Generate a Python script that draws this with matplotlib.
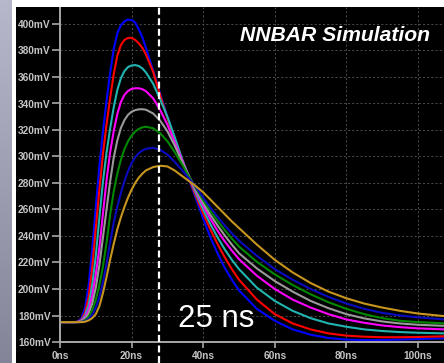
import numpy as np
import matplotlib
matplotlib.use("Agg")
import matplotlib.pyplot as plt
from matplotlib.patches import Rectangle

plt.rcParams['lines.scale_dashes'] = False

# ---- data (time in ns, voltage in mV) ----
t_ns = [0, 4, 5, 6, 7, 8, 9, 10, 11, 12,
        13, 14, 15, 16, 17, 18, 19, 20, 21, 22,
        23, 24,
        26, 28, 30, 32, 34, 36, 38, 40, 42, 44, 46, 48, 50,
        55, 60, 65, 70, 75, 80, 85, 90, 95, 100,
        107.5]

v_blue = [175, 175, 175.5, 178, 186, 203, 230, 262, 293, 319,
          342, 363, 381, 393, 399, 402, 403.3, 403, 401, 396,
          390, 382,
          365, 347, 330, 313, 297, 283, 268, 253, 239, 227, 216, 207, 199,
          185, 176, 169.5, 165.5, 163, 161.8, 161.4, 161.5, 161.8, 162.2,
          162.8]
v_red = [175, 175, 175.3, 177, 182, 194, 216, 246, 275, 302,
         324, 344, 362, 376, 384, 388, 389.5, 389.5, 388, 385.5,
         382, 377,
         364, 346, 329, 313, 297, 283.5, 270, 257, 245, 234, 224, 215, 207,
         192, 181, 174, 169.5, 166.5, 164.8, 164, 163.6, 163.6, 163.8,
         164.3]
v_cyan = [175, 175, 175.2, 176.5, 180, 188, 203, 225, 254, 281,
          303, 321, 337, 350, 359, 364.5, 367.5, 368.7, 369, 368.3,
          366.5, 363.5,
          355, 343, 330, 315, 299, 284.5, 272, 260, 249, 239, 230, 222, 215,
          201, 191, 183.5, 178, 174, 171.5, 169.5, 168.3, 167.5, 167,
          166.5]
v_magenta = [175, 175, 175.1, 176, 178.5, 184, 195, 211, 231, 257,
             282, 303, 319, 332, 341, 346.5, 349.5, 351, 351.5, 351.5,
             350.8, 349.3,
             344, 335, 324, 311, 298, 285, 274, 263, 253, 244, 236, 229, 222.5,
             210, 200, 192, 186, 181, 177, 174.5, 172.5, 171.2, 170.3,
             169.5]
v_gray = [175, 175, 175, 175.6, 177.5, 181.5, 189, 201, 218, 239,
          260, 281, 299, 312, 321.5, 327.5, 331.5, 333.8, 335, 335.6,
          335.7, 335.3,
          332.5, 327, 319, 308.5, 296.5, 285.5, 275, 265, 256, 248, 240.5, 233.5, 227,
          215.5, 206, 198, 191, 185.5, 181, 177.8, 175.5, 174, 173,
          172.2]
v_green = [175, 175, 175, 175.3, 176.5, 179, 184, 192, 203, 217,
           235, 256, 273.5, 287, 297.5, 305.5, 311.5, 315.8, 318.8, 320.8,
           322, 322.5,
           321.3, 317.5, 311.5, 303.5, 294.5, 285, 276, 267, 259, 251.5, 244.5, 238, 232,
           220.5, 211, 203, 196, 190, 185, 181, 178, 176, 175,
           174]
v_navy = [175, 175, 175, 175.1, 175.8, 177.5, 180.5, 186, 194, 205,
          219, 235, 250, 262, 272.5, 281.5, 289, 295, 299.5, 302.5,
          304.5, 305.8,
          306.6, 305, 301.5, 296, 290, 283.5, 277, 269, 261.5, 254.5, 248, 242, 236.5,
          225, 215, 207, 200, 194, 189, 185, 182, 180, 178.6,
          177]
v_gold = [175, 175, 175, 175, 175.3, 176.3, 178, 181, 187, 197,
          209, 222, 234, 245, 254, 262, 269, 275, 280, 284,
          287, 289.5,
          292, 293, 292.5, 289.5, 285.5, 281.5, 277.5, 273, 267.5, 262, 256.5, 251, 246,
          233.5, 222, 212.5, 204.5, 198, 193, 189, 186, 183.5, 181.5,
          179.5]

series = [v_blue, v_red, v_cyan, v_magenta, v_gray, v_green, v_navy, v_gold]
colors = ['#0000ff', '#ff0000', '#22b4b0', '#ff00ff', '#9a9a9a', '#008800', '#0a0ac0', '#c8961e']

x_ticks = [0, 20, 40, 60, 80, 100]
x_labels = ['0ns', '20ns', '40ns', '60ns', '80ns', '100ns']
y_ticks = [160, 180, 200, 220, 240, 260, 280, 300, 320, 340, 360, 380, 400]
y_labels = ['%dmV' % v for v in y_ticks]

marker_ns = 27.7
marker_text = '25 ns'
title_text = 'NNBAR Simulation'

# ---- figure ----
W, H = 444, 363
fig = plt.figure(figsize=(W / 100, H / 100), dpi=100, facecolor='black')

# left gradient band
band = fig.add_axes([0, 0, 12 / W, 1])
grad = np.linspace(0, 1, 256)[:, None]
top_c = np.array([0.72, 0.72, 0.80])
bot_c = np.array([0.52, 0.52, 0.60])
img = top_c[None, None, :] * (1 - grad[:, :, None]) + bot_c[None, None, :] * grad[:, :, None]
band.imshow(img, aspect='auto', extent=[0, 1, 0, 1])
band.set_axis_off()

fig.patches.append(Rectangle((12 / W, 0), 4 / W, 1, transform=fig.transFigure,
                             facecolor='white', edgecolor='none', zorder=0))
fig.patches.append(Rectangle((12 / W, 1 - 7 / H), 1, 7 / H, transform=fig.transFigure,
                             facecolor='white', edgecolor='none', zorder=0))

ax = fig.add_axes([60 / W, 21 / H, 384 / W, 335 / H])
ax.set_facecolor('black')

for v, c in zip(series, colors):
    ax.plot(t_ns, v, color=c, linewidth=1.5, solid_capstyle='round', solid_joinstyle='round')

ax.set_xlim(0, 384 / 3.58)
ax.set_ylim(160, 160 + 335 / 1.325)

ax.set_xticks(x_ticks)
ax.set_xticklabels(x_labels)
ax.set_yticks(y_ticks)
ax.set_yticklabels(y_labels)

for lab in ax.get_xticklabels() + ax.get_yticklabels():
    lab.set_fontfamily('Liberation Sans')
    lab.set_fontweight('bold')
    lab.set_fontsize(7.3)
    lab.set_color('#c4c4c4')

ax.tick_params(axis='y', direction='out', length=5.5, width=1.2, color='#a8a8a8', pad=1.2)
ax.tick_params(axis='x', direction='out', length=4, width=1.2, color='#a8a8a8', pad=2.3)

ax.grid(True, color='#4a4a4a', linestyle=(0, (1.5, 1.5)), linewidth=0.7)
ax.set_axisbelow(True)

for s in ['top', 'right']:
    ax.spines[s].set_visible(False)
for s in ['left', 'bottom']:
    ax.spines[s].set_color('#a8a8a8')
    ax.spines[s].set_linewidth(1.4)

# dashed marker line
ax.plot([marker_ns, marker_ns], [-0.063, 1.0], transform=ax.get_xaxis_transform(),
        color='white', linewidth=1.6, linestyle=(0, (5, 2.6)), clip_on=False, zorder=5)

ax.text((178.3 - 60) / 384, (342 - 327) / 335, marker_text, transform=ax.transAxes,
        ha='left', va='baseline', color='white', fontsize=22.5,
        family='Liberation Sans', zorder=6)

ax.text((430 - 60) / 384, (342 - 40.7) / 335, title_text, transform=ax.transAxes,
        ha='right', va='baseline', color='white', fontsize=15.2,
        family='Liberation Sans', weight='bold', style='italic', zorder=6)

fig.savefig('out.png', dpi=100, facecolor='black')
